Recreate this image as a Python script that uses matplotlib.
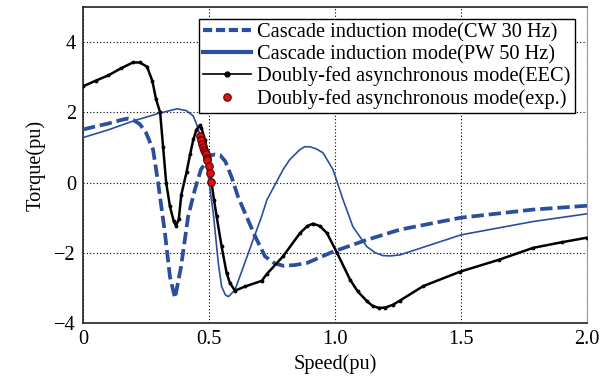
import matplotlib
matplotlib.use("Agg")
import matplotlib.pyplot as plt
from matplotlib.lines import Line2D

plt.rcParams['font.family'] = ['Liberation Serif', 'DejaVu Serif']
plt.rcParams['font.size'] = 14.7

blue = '#2a4f9e'

# cascade induction mode, CW 30 Hz (dashed)
cw_speed = [0, 0.05, 0.1, 0.15, 0.175, 0.2, 0.226, 0.25, 0.278, 0.298, 0.325, 0.345,
            0.365, 0.389, 0.417, 0.444, 0.468, 0.504, 0.524, 0.544, 0.565, 0.59,
            0.615, 0.643, 0.683, 0.722, 0.76, 0.794, 0.84, 0.889, 0.992, 1.127,
            1.258, 1.5, 1.786, 2.0]
cw_torque = [1.51, 1.6, 1.68, 1.78, 1.82, 1.78, 1.66, 1.42, 0.94, 0.0, -1.43, -2.68,
             -3.29, -2.4, -0.97, -0.2, 0.37, 0.77, 0.8, 0.78, 0.6, 0.15,
             -0.4, -0.87, -1.53, -2.1, -2.3, -2.37, -2.35, -2.29, -1.97, -1.63,
             -1.34, -1.0, -0.77, -0.66]

# cascade induction mode, PW 50 Hz (thin solid)
pw_speed = [0, 0.1, 0.198, 0.3, 0.373, 0.41, 0.437, 0.451, 0.46, 0.48, 0.495, 0.504,
            0.517, 0.537, 0.55, 0.565, 0.577, 0.603, 0.656, 0.709, 0.73, 0.794,
            0.82, 0.861, 0.88, 0.9, 0.925, 0.952, 0.992, 1.032, 1.071, 1.127,
            1.16, 1.19, 1.22, 1.258, 1.5, 1.786, 2.0]
pw_torque = [1.28, 1.5, 1.75, 1.97, 2.1, 2.05, 1.9, 1.66, 1.45, 0.9, 0.3, -0.2,
             -0.87, -2.3, -2.96, -3.2, -3.25, -3.06, -2.01, -0.96, -0.49, 0.37,
             0.65, 0.94, 1.02, 1.02, 0.96, 0.85, 0.37, -0.49, -1.26, -1.83,
             -2.0, -2.08, -2.09, -2.06, -1.49, -1.11, -0.89]

# doubly-fed asynchronous mode, equivalent circuit
eec_speed = [0, 0.05, 0.1, 0.15, 0.198, 0.225, 0.254, 0.275, 0.29, 0.306, 0.318, 0.33,
             0.345, 0.36, 0.369, 0.38, 0.39, 0.411, 0.425, 0.438, 0.45, 0.464,
             0.47, 0.485, 0.5, 0.51, 0.52, 0.53, 0.55, 0.57, 0.583, 0.603, 0.643,
             0.709, 0.73, 0.794, 0.861, 0.89, 0.913, 0.94, 0.968, 1.008, 1.06,
             1.09, 1.127, 1.15, 1.175, 1.2, 1.23, 1.258, 1.35, 1.496, 1.65, 1.786,
             1.9, 2.0]
eec_torque = [2.74, 2.9, 3.05, 3.25, 3.42, 3.42, 3.3, 2.9, 2.37, 2.0, 1.0, 0.0,
              -0.68, -1.1, -1.23, -1.05, -0.35, 0.3, 0.8, 1.23, 1.5, 1.63,
              1.55, 1.2, 0.6, 0.0, -0.5, -0.95, -1.82, -2.58, -2.86, -3.08, -2.96,
              -2.8, -2.6, -2.1, -1.44, -1.24, -1.17, -1.24, -1.44, -2.0, -2.77,
              -3.1, -3.38, -3.52, -3.57, -3.56, -3.48, -3.36, -2.95, -2.54, -2.2,
              -1.86, -1.7, -1.57]

# experimental points
exp_speed = [0.464, 0.469, 0.473, 0.477, 0.48, 0.484, 0.487, 0.491, 0.493, 0.499,
             0.503, 0.507]
exp_torque = [1.32, 1.21, 1.11, 1.02, 0.94, 0.87, 0.8, 0.7, 0.63, 0.47, 0.26, 0.02]

labels = ['Cascade induction mode(CW 30 Hz)', 'Cascade induction mode(PW 50 Hz)',
          'Doubly-fed asynchronous mode(EEC)', 'Doubly-fed asynchronous mode(exp.)']

fig = plt.figure(figsize=(6.08, 3.8), dpi=100)
ax = fig.add_axes([0.1365, 0.15, 0.829, 0.8316])

ax.plot(cw_speed, cw_torque, color=blue, lw=2.7, dashes=(3.3, 1.3), zorder=3)
ax.plot(pw_speed, pw_torque, color=blue, lw=1.2, zorder=3)
ax.plot(eec_speed, eec_torque, color='black', lw=1.8, marker='.', ms=3.5, zorder=4)
ax.plot(exp_speed, exp_torque, ls='none', marker='o', ms=5.4, mfc='#e01010',
        mec='#5a0000', mew=0.8, zorder=5)

ax.set_xlim(0, 2.0)
ax.set_ylim(-4, 5)
ax.set_xticks([0, 0.5, 1.0, 1.5, 2.0])
ax.set_xticklabels(['0', '0.5', '1.0', '1.5', '2.0'])
ax.set_yticks([-4, -2, 0, 2, 4])
ax.set_yticklabels(['\u22124', '\u22122', '0', '2', '4'])
ax.tick_params(length=0, pad=5)
ax.grid(True, color='black', ls=(0, (1, 2)), lw=0.8)
ax.set_xlabel('Speed(pu)', labelpad=4)
ax.set_ylabel('Torque(pu)', labelpad=6)
for side in ['left', 'bottom', 'top']:
    ax.spines[side].set_linewidth(1.2)
    ax.spines[side].set_color('#222222')
ax.spines['right'].set_color('#999999')

handles = [
    Line2D([], [], color=blue, lw=3, dashes=(2.2, 0.9)),
    Line2D([], [], color=blue, lw=3),
    Line2D([], [], color='black', lw=1.2, marker='.', ms=7),
    Line2D([], [], ls='none', marker='o', ms=5.4, mfc='#e01010', mec='#5a0000', mew=0.8),
]
leg = ax.legend(handles, labels, loc='upper right', bbox_to_anchor=(0.976, 0.962),
                borderaxespad=0, fancybox=False, framealpha=1, edgecolor='black',
                numpoints=1, handlelength=2.35, handletextpad=0.3, labelspacing=0.12,
                borderpad=0.2)
leg.get_frame().set_linewidth(1.0)

fig.savefig('out.png', dpi=100)
